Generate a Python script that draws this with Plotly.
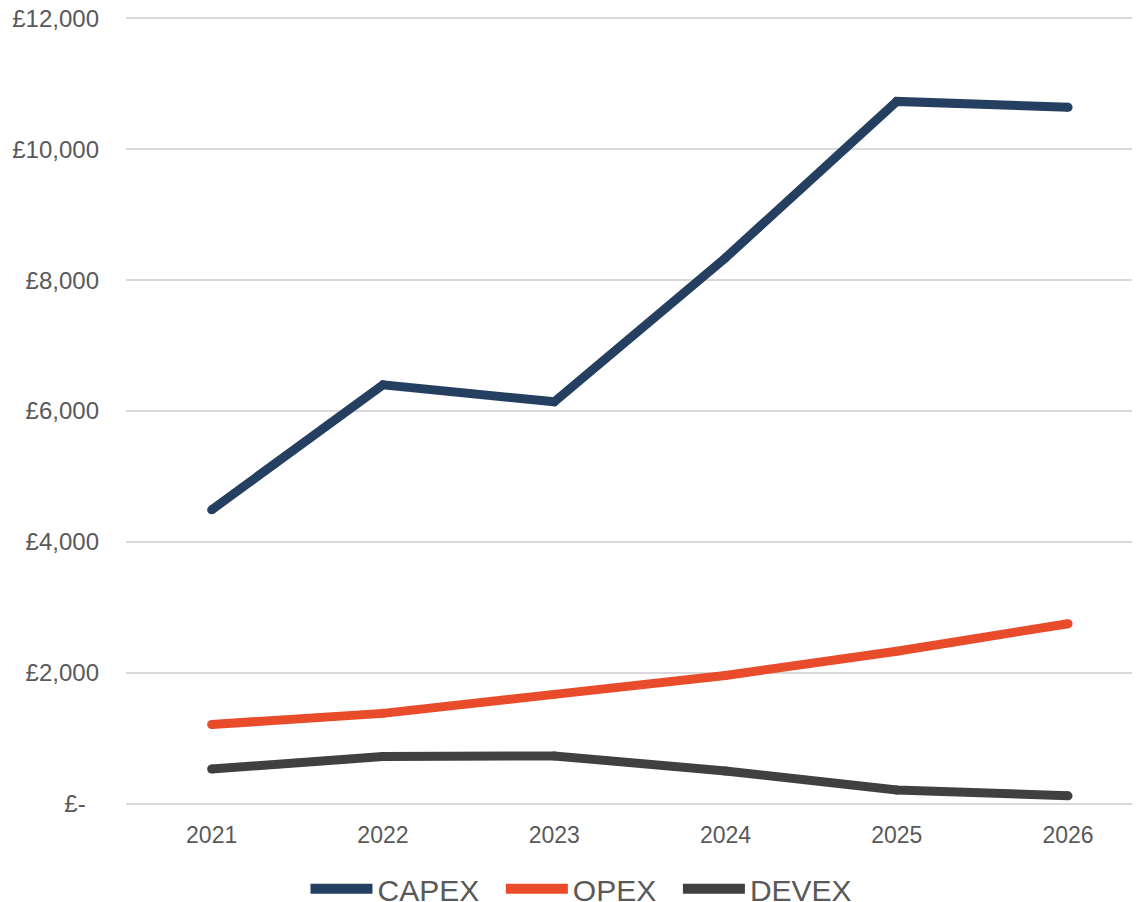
import plotly.graph_objects as go

years = ["2021", "2022", "2023", "2024", "2025", "2026"]
capex = [4490, 6400, 6140, 8340, 10730, 10640]
opex = [1210, 1380, 1670, 1960, 2330, 2750]
devex = [530, 720, 730, 500, 210, 120]

y_tickvals = [0, 2000, 4000, 6000, 8000, 10000, 12000]
y_ticktext = ["£-\u00a0\u00a0", "£2,000", "£4,000", "£6,000", "£8,000", "£10,000", "£12,000"]

series = [("CAPEX", capex, "#243F60"), ("OPEX", opex, "#E84C2A"), ("DEVEX", devex, "#404040")]

fig = go.Figure()
for name, vals, col in series:
    fig.add_trace(go.Scatter(
        x=years, y=vals, name=name, mode="lines+markers",
        line=dict(color=col, width=9),
        marker=dict(color=col, size=9, line=dict(width=0)),
        hoverinfo="x+y", showlegend=False, legendgroup=name,
    ))
    fig.add_trace(go.Scatter(
        x=[None], y=[None], name=name + "\u00a0\u00a0", mode="lines",
        line=dict(color=col, width=10), legendgroup=name, showlegend=True,
    ))

font = "Liberation Sans, Arial, sans-serif"
fig.update_layout(
    width=1140, height=902,
    margin=dict(l=118, r=8, t=9, b=105),
    paper_bgcolor="white", plot_bgcolor="white",
    font=dict(family=font, color="#595959", size=24),
    showlegend=True,
    legend=dict(orientation="h", x=0.177, xanchor="left",
                yref="container", y=0.0235, yanchor="middle",
                font=dict(size=30, color="#595959"), itemwidth=62,
                tracegroupgap=0),
    xaxis=dict(type="category", range=[-0.5, 5.42], showgrid=False, zeroline=False,
               showline=False, ticks="", ticklabelstandoff=14, automargin=False,
               tickfont=dict(size=23, color="#595959")),
    yaxis=dict(range=[-20, 12020], tickvals=y_tickvals, ticktext=y_ticktext,
               showgrid=True, gridcolor="#D9D9D9", gridwidth=1.5, zeroline=False,
               showline=False, ticks="", ticklabelstandoff=26, automargin=False,
               ticklabeloverflow="allow",
               tickfont=dict(size=24, color="#595959")),
)
fig.write_html("out.html")
